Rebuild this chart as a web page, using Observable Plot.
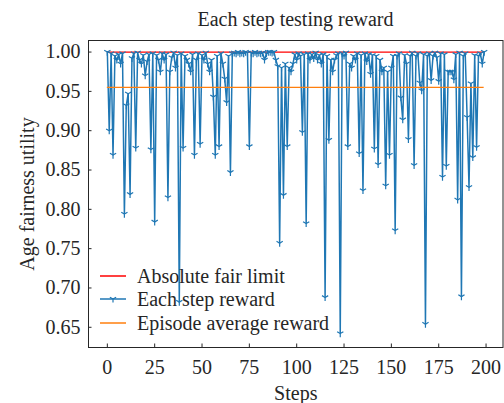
<!DOCTYPE html>
<html><head><meta charset="utf-8">
<script src="https://cdn.jsdelivr.net/npm/d3@7"></script>
<script src="https://cdn.jsdelivr.net/npm/@observablehq/plot@0.6"></script>
<style>
body{margin:0;background:#fff;}
#chart{position:relative;width:504px;height:403px;font-family:"Liberation Serif","Times New Roman",serif;color:#262626;}
#chart svg{position:absolute;left:0;top:0;}
#title{position:absolute;left:88px;width:415px;top:9px;text-align:center;font-size:20px;line-height:20px;}
#legend{position:absolute;left:100px;top:264px;font-size:20px;}
.row{display:flex;align-items:center;height:23.5px;line-height:20px;}
.row svg{position:static !important;margin-right:11px;}
</style></head><body>
<div id="chart"></div>
<script>
// Each step testing reward (steps 0..199)
const stepReward = [
  1.000, 0.900, 0.998, 0.869, 0.995, 0.990, 0.997, 0.985, 0.998, 0.794,
  0.932, 0.947, 0.819, 0.992, 0.998, 0.878, 0.999, 0.990, 0.985, 0.996,
  0.970, 0.988, 0.997, 0.876, 0.998, 0.784, 0.996, 0.990, 0.975, 0.998,
  0.990, 0.997, 0.815, 0.975, 0.993, 0.999, 0.980, 0.996, 0.682, 0.998,
  0.878, 0.995, 0.990, 0.985, 0.975, 0.997, 0.869, 0.990, 0.998, 0.883,
  0.996, 0.990, 0.999, 0.985, 0.975, 0.990, 0.943, 0.869, 0.995, 0.880,
  0.998, 0.985, 0.966, 0.936, 0.995, 0.847, 0.998, 0.999, 0.998, 1.000,
  0.998, 0.999, 0.998, 1.000, 0.999, 0.880, 0.999, 0.998, 1.000, 0.998,
  0.999, 0.998, 0.999, 0.990, 0.998, 1.000, 1.000, 0.999, 1.000, 0.990,
  0.982, 0.757, 0.980, 0.818, 0.985, 0.880, 0.980, 0.975, 0.985, 0.997,
  0.990, 0.998, 0.995, 0.898, 0.997, 0.782, 0.998, 0.990, 0.997, 0.992,
  0.999, 0.990, 0.996, 0.985, 0.997, 0.688, 0.995, 0.888, 0.990, 0.975,
  0.990, 0.996, 0.998, 0.642, 0.998, 0.995, 0.999, 0.880, 0.985, 0.980,
  0.995, 0.990, 0.998, 0.871, 0.996, 0.824, 0.998, 0.988, 0.997, 0.972,
  0.996, 0.877, 0.995, 0.857, 0.990, 0.975, 0.980, 0.830, 0.975, 0.869,
  0.980, 0.995, 0.773, 0.995, 0.998, 0.942, 0.914, 0.996, 0.985, 0.889,
  0.995, 0.999, 0.856, 0.995, 0.998, 0.961, 0.951, 0.997, 0.654, 0.995,
  0.998, 0.964, 0.995, 0.999, 0.993, 0.963, 0.998, 0.841, 0.997, 0.855,
  0.975, 0.975, 0.975, 0.965, 0.997, 0.812, 0.999, 0.689, 0.995, 0.998,
  0.917, 0.828, 0.960, 0.866, 0.996, 0.879, 0.995, 0.998, 0.985, 1.000
];
const steps = stepReward.map((_, i) => i);
const absoluteFairLimit = 1.0;
const episodeAverageReward = 0.955;
const xTicks = [0, 25, 50, 75, 100, 125, 150, 175, 200];
const yTicks = [0.65, 0.70, 0.75, 0.80, 0.85, 0.90, 0.95, 1.00];
const seriesNames = ["Absolute fair limit", "Each step reward", "Episode average reward"];
const seriesColors = ["#ff0000", "#1f77b4", "#ff7f0e"];

const W = 504, H = 403, ML = 88, MR = 1.5, MT = 40, MB = 56;
const frameW = W - ML - MR, frameH = H - MT - MB;

const triDown = {
  draw(ctx, size) {
    const r = Math.sqrt(size / Math.PI);
    const s = r * Math.sqrt(3) / 2;
    ctx.moveTo(0, 0); ctx.lineTo(0, r);
    ctx.moveTo(0, 0); ctx.lineTo(-s, -r / 2);
    ctx.moveTo(0, 0); ctx.lineTo(s, -r / 2);
  }
};

const table = steps.map(i => ({step: i, reward: stepReward[i]}));
const x0 = steps[0], x1 = steps[steps.length - 1];

const plot = Plot.plot({
  width: W, height: H,
  marginLeft: ML, marginRight: MR, marginTop: MT, marginBottom: MB,
  style: {fontFamily: "Liberation Serif, Times New Roman, serif", fontSize: "20px", color: "#262626", background: "transparent"},
  x: {domain: [-9.95, 208.95]},
  y: {domain: [0.6243, 1.0147]},
  marks: [
    Plot.ruleY([absoluteFairLimit], {x1: x0, x2: x1, stroke: seriesColors[0], strokeWidth: 1.3}),
    Plot.line(table, {x: "step", y: "reward", stroke: seriesColors[1], strokeWidth: 1.5}),
    Plot.dot(table, {x: "step", y: "reward", symbol: triDown, r: 3.6, stroke: seriesColors[1], fill: "none", strokeWidth: 1.2}),
    Plot.ruleY([episodeAverageReward], {x1: x0, x2: x1, stroke: seriesColors[2], strokeWidth: 1.3}),
    Plot.tickX(xTicks, {x: d => d, insetTop: frameH - 3.5, stroke: "#262626", strokeWidth: 1}),
    Plot.tickY(yTicks, {y: d => d, insetRight: frameW - 3.5, stroke: "#262626", strokeWidth: 1}),
    Plot.axisX(xTicks, {tickSize: 0, tickPadding: 12, label: "Steps", labelArrow: "none", labelAnchor: "center", labelOffset: 52}),
    Plot.axisY(yTicks, {tickSize: 0, tickPadding: 8, tickFormat: d3.format(".2f"), label: "Age fairness utility", labelArrow: "none", labelAnchor: "center", labelOffset: 69}),
    Plot.frame({stroke: "#262626", strokeWidth: 1})
  ]
});

const chart = document.getElementById("chart");
chart.appendChild(plot);

const title = document.createElement("div");
title.id = "title";
title.textContent = "Each step testing reward";
chart.appendChild(title);

const legend = document.createElement("div");
legend.id = "legend";
seriesNames.forEach((name, k) => {
  const row = document.createElement("div");
  row.className = "row";
  const sw = d3.create("svg").attr("width", 26).attr("height", 12);
  sw.append("line").attr("x1", 0).attr("x2", 26).attr("y1", 6).attr("y2", 6)
    .attr("stroke", seriesColors[k]).attr("stroke-width", 1.5);
  if (k === 1) {
    sw.append("path").attr("transform", "translate(13,6)")
      .attr("d", d3.symbol().type(triDown).size(Math.PI * 3.6 * 3.6)())
      .attr("stroke", seriesColors[k]).attr("fill", "none").attr("stroke-width", 1.2);
  }
  row.appendChild(sw.node());
  const t = document.createElement("span");
  t.textContent = name;
  row.appendChild(t);
  legend.appendChild(row);
});
chart.appendChild(legend);
</script>
</body></html>
